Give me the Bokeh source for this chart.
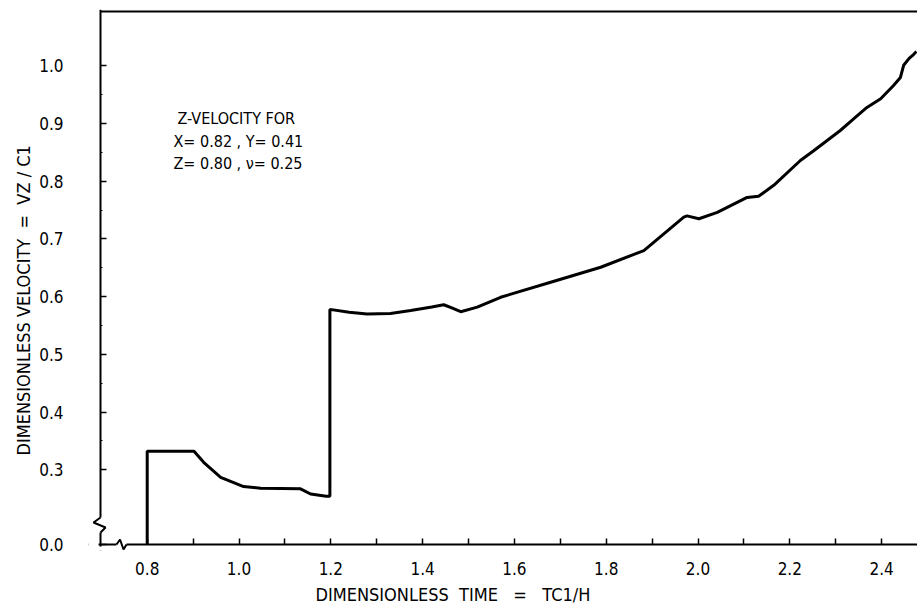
from bokeh.plotting import figure
from bokeh.models import (Range1d, LinearAxis, FixedTicker, Label, Title,
                          BoxAnnotation)
from bokeh.embed import file_html
from bokeh.resources import INLINE

# ---- data ----
time = [0.800, 0.800, 0.902, 0.923, 0.960, 1.010, 1.047, 1.134, 1.156, 1.190,
        1.198, 1.198, 1.240, 1.279, 1.330, 1.374, 1.420, 1.446, 1.465, 1.483,
        1.519, 1.570, 1.679, 1.788, 1.882, 1.969, 1.976, 2.002, 2.042, 2.107,
        2.132, 2.165, 2.223, 2.252, 2.310, 2.339, 2.368, 2.398, 2.426, 2.441,
        2.448, 2.460, 2.470, 2.476]
velocity = [0.000, 0.332, 0.332, 0.313, 0.287, 0.271, 0.268, 0.267, 0.258, 0.254,
            0.254, 0.578, 0.573, 0.570, 0.571, 0.576, 0.582, 0.586, 0.580, 0.574,
            0.582, 0.599, 0.625, 0.651, 0.680, 0.738, 0.740, 0.735, 0.746, 0.772,
            0.774, 0.793, 0.836, 0.853, 0.888, 0.908, 0.928, 0.943, 0.966, 0.980,
            1.001, 1.013, 1.020, 1.025]

x_ticks = [0.8, 1.0, 1.2, 1.4, 1.6, 1.8, 2.0, 2.2, 2.4]
x_tick_labels = ["0.8", "1.0", "1.2", "1.4", "1.6", "1.8", "2.0", "2.2", "2.4"]
x_minor_ticks = [0.9, 1.1, 1.3, 1.5, 1.7, 1.9, 2.1, 2.3]
y_ticks = [0.0, 0.3, 0.4, 0.5, 0.6, 0.7, 0.8, 0.9, 1.0]
y_tick_labels = ["0.0", "0.3", "0.4", "0.5", "0.6", "0.7", "0.8", "0.9", "1.0"]
y_minor_ticks = [0.35, 0.45, 0.55, 0.65, 0.75, 0.85, 0.95]

NB = "\u00a0"
x_title = f"DIMENSIONLESS{NB}{NB}TIME{NB}{NB}{NB}={NB}{NB}{NB}TC1/H"
y_title = f"DIMENSIONLESS{NB}VELOCITY{NB}{NB}={NB}{NB}VZ{NB}/{NB}C1"
note_lines = ["Z-VELOCITY FOR", "X= 0.82 , Y= 0.41", "Z= 0.80 , \u03bd= 0.25"]

# ---- broken y axis: values below BREAK_TOP are compressed ----
Y_ZERO_POS = 0.1705     # where 0.0 sits on the display scale
BREAK_TOP = 0.2


def disp(v):
    if v >= BREAK_TOP:
        return v
    return Y_ZERO_POS + v * (BREAK_TOP - Y_ZERO_POS) / BREAK_TOP


# ranges (frame a bit larger than the drawn axes so the breaks can poke out)
X_START, X_END = 0.6721, 2.4782
Y_START, Y_END = 0.16014, 1.0977
X_AXIS = 0.6983          # location of the left axis line
Y_AXIS = Y_ZERO_POS      # location of the bottom axis line
Y_TOP = 1.0943           # location of the top border line

FONT = "'DejaVu Sans Condensed', 'Liberation Sans Narrow', Roboto, sans-serif"
W, H = 917, 610
ML, MR, MT, MB = 88, 0, 9, 60
FW, FH = W - ML - MR, H - MT - MB
dxp = (X_END - X_START) / FW
dyp = (Y_END - Y_START) / FH

p = figure(width=W, height=H, output_backend="svg", toolbar_location=None,
           x_range=Range1d(X_START, X_END), y_range=Range1d(Y_START, Y_END),
           min_border_left=ML, min_border_right=MR, min_border_top=MT,
           min_border_bottom=MB)
p.grid.visible = False
p.outline_line_color = None
p.background_fill_color = "white"
p.border_fill_color = "white"

x_ticker = FixedTicker(ticks=x_ticks, minor_ticks=x_minor_ticks)
y_ticker = FixedTicker(ticks=[disp(v) for v in y_ticks], minor_ticks=y_minor_ticks)

# ---- label-only axes at the frame edges ----
xa = p.xaxis[0]
xa.ticker = x_ticker
xa.major_label_overrides = {t: l for t, l in zip(x_ticks, x_tick_labels)}
xa.axis_line_color = None
xa.major_tick_line_color = None
xa.minor_tick_line_color = None
xa.major_tick_out = 0
xa.minor_tick_out = 0
xa.major_label_standoff = 11
xa.major_label_text_font = FONT
xa.major_label_text_font_size = "17px"
xa.major_label_text_color = "black"

ya = p.yaxis[0]
ya.ticker = y_ticker
ya.major_label_overrides = {disp(t): l for t, l in zip(y_ticks, y_tick_labels)}
ya.axis_line_color = None
ya.major_tick_line_color = None
ya.minor_tick_line_color = None
ya.major_tick_out = 0
ya.minor_tick_out = 0
ya.major_label_standoff = 25
ya.major_label_text_font = FONT
ya.major_label_text_font_size = "17px"
ya.major_label_text_color = "black"

# ---- axis lines and inward ticks at the real axis positions (no labels) ----
xline = LinearAxis(fixed_location=Y_AXIS, ticker=x_ticker,
                   major_tick_in=6, major_tick_out=0, minor_tick_in=6, minor_tick_out=0,
                   axis_line_width=2, major_tick_line_width=1.5, minor_tick_line_width=1.5,
                   major_label_text_font_size="1px", major_label_text_color=None,
                   major_label_standoff=0)
p.add_layout(xline, "below")
yline = LinearAxis(fixed_location=X_AXIS, ticker=y_ticker,
                   major_tick_in=6, major_tick_out=0, minor_tick_in=2, minor_tick_out=0,
                   axis_line_width=2, major_tick_line_width=1.5,
                   major_label_text_font_size="1px", major_label_text_color=None,
                   major_label_standoff=0)
p.add_layout(yline, "left")

# axis titles
yt = Title(text=y_title, align="left", offset=95, text_font=FONT,
           text_font_size="18px", text_font_style="normal", text_color="black",
           standoff=6)
p.add_layout(yt, "left")
xt = Title(text=x_title, align="left", offset=227, text_font=FONT,
           text_font_size="18px", text_font_style="normal", text_color="black",
           standoff=9)
p.add_layout(xt, "below")

# hide axis line parts that stick out past the corner / top border
p.add_layout(BoxAnnotation(left=X_START, right=X_AXIS - 2 * dxp,
                           bottom=Y_AXIS - 3 * dyp, top=Y_AXIS + 3 * dyp,
                           fill_color="white", fill_alpha=1, line_color=None))
p.add_layout(BoxAnnotation(left=X_AXIS - 3 * dxp, right=X_AXIS + 3 * dxp,
                           bottom=Y_START, top=Y_AXIS - 2 * dyp,
                           fill_color="white", fill_alpha=1, line_color=None))
p.add_layout(BoxAnnotation(left=X_AXIS - 3 * dxp, right=X_AXIS + 3 * dxp,
                           bottom=Y_TOP + 1.5 * dyp, top=Y_END,
                           fill_color="white", fill_alpha=1, line_color=None))

# top border line
p.line([X_AXIS, X_END], [Y_TOP, Y_TOP], line_width=2, line_color="black",
       level="overlay")

# axis-break squiggles (gap in the axis line, then a zigzag)
p.add_layout(BoxAnnotation(left=X_AXIS - 3 * dxp, right=X_AXIS + 3 * dxp,
                           bottom=Y_AXIS + 12 * dyp, top=Y_AXIS + 27 * dyp,
                           fill_color="white", fill_alpha=1, line_color=None))
p.line([X_AXIS, X_AXIS + 5 * dxp, X_AXIS - 7 * dxp, X_AXIS],
       [Y_AXIS + 12 * dyp, Y_AXIS + 17 * dyp, Y_AXIS + 22 * dyp, Y_AXIS + 27 * dyp],
       line_width=2, line_color="black", level="overlay")
p.add_layout(BoxAnnotation(left=X_AXIS + 16 * dxp, right=X_AXIS + 26 * dxp,
                           bottom=Y_AXIS - 3 * dyp, top=Y_AXIS + 3 * dyp,
                           fill_color="white", fill_alpha=1, line_color=None))
p.line([X_AXIS + 16 * dxp, X_AXIS + 19.5 * dxp, X_AXIS + 23 * dxp, X_AXIS + 26 * dxp],
       [Y_AXIS, Y_AXIS + 5 * dyp, Y_AXIS - 5 * dyp, Y_AXIS],
       line_width=2, line_color="black", level="overlay")

# curve
p.line(time, [disp(v) for v in velocity], line_width=3, line_color="black",
       level="overlay")

# note text
note_x = [0.8 + (177 - 146.7) / 459, 0.8 + (173 - 146.7) / 459, 0.8 + (173 - 146.7) / 459]
note_y = [0.3 + (469.3 - 118) / 577, 0.3 + (469.3 - 141) / 577, 0.3 + (469.3 - 163) / 577]
for tx, ty, txt in zip(note_x, note_y, note_lines):
    p.add_layout(Label(x=tx, y=ty, text=txt, text_font=FONT, text_font_size="16px",
                       text_color="black", text_baseline="alphabetic"))

open("out.html", "w").write(file_html(p, INLINE))
